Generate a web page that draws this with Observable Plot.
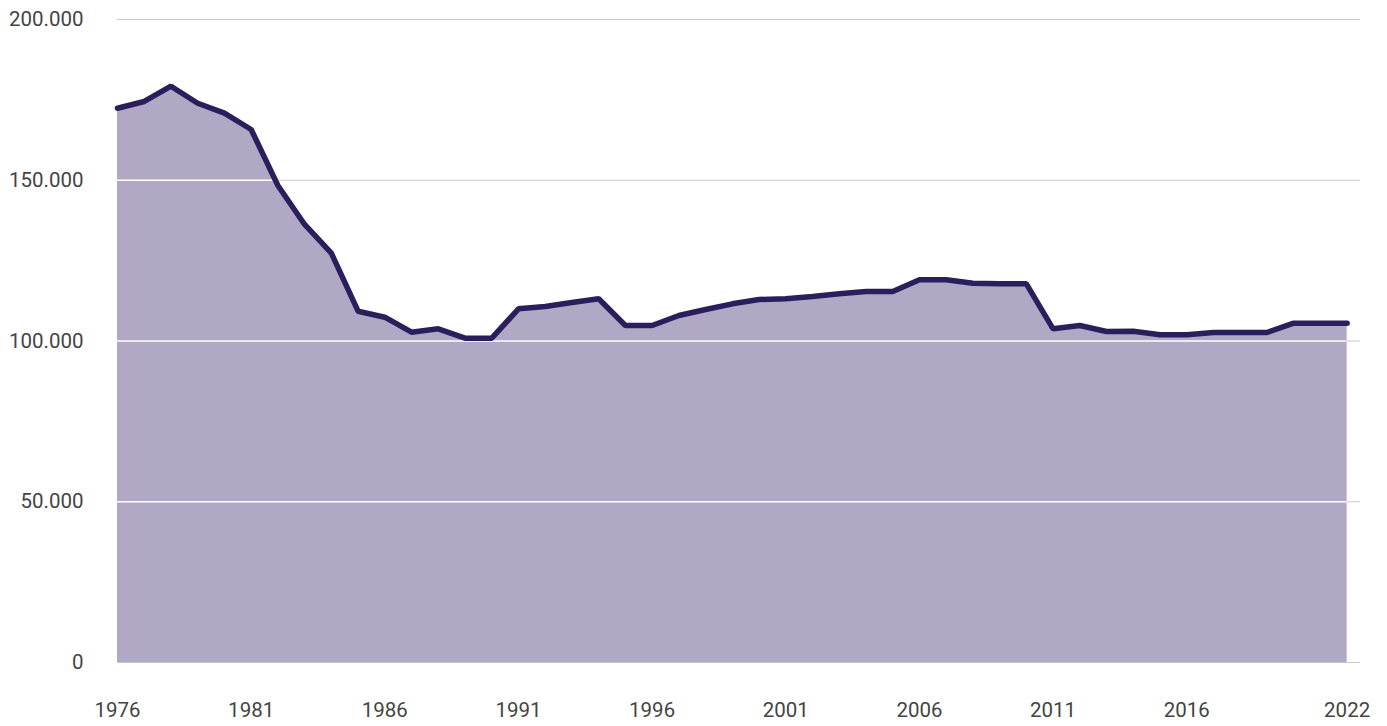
<!DOCTYPE html>
<html>
<head>
<meta charset="utf-8">
<script src="https://cdn.jsdelivr.net/npm/d3@7"></script>
<script src="https://cdn.jsdelivr.net/npm/@observablehq/plot@0.6"></script>
<style>
  html, body { margin: 0; padding: 0; background: #fff; }
  #chart svg { display: block; }
</style>
</head>
<body>
<div id="chart"></div>
<script>
const years = d3.range(1976, 2023);
const values = [
  172400, 174500, 179250, 173950, 170860, 165790, 148370, 136240, 127310, 109270,
  107400, 102740, 103790, 100870, 100870, 110000, 110730, 111980, 113120, 104820,
  104820, 107930, 109800, 111560, 112910, 113120, 113840, 114670, 115400, 115400,
  119030, 119030, 117980, 117780, 117780, 103790, 104820, 102950, 103050, 101920,
  101920, 102640, 102640, 102640, 105540, 105540, 105540
];
const xTicks = [1976, 1981, 1986, 1991, 1996, 2001, 2006, 2011, 2016, 2022];
const yTicks = [0, 50000, 100000, 150000, 200000];

const data = years.map((y, i) => ({year: y, value: values[i]}));
const fmt = d => d3.format(",")(d).replace(/,/g, ".");

const chart = Plot.plot({
  width: 1387,
  height: 726,
  marginLeft: 117,
  marginRight: 27,
  marginTop: 19,
  marginBottom: 64,
  style: {fontFamily: "Roboto, sans-serif", fontSize: "20.5px", color: "#444444", background: "#fff"},
  x: {domain: [1976, 2022.5], ticks: xTicks, tickFormat: d => String(d), tickSize: 0, tickPadding: 40, label: null},
  y: {domain: [0, 200000], ticks: yTicks, tickFormat: fmt, tickSize: 0, tickPadding: 34, label: null},
  marks: [
    Plot.ruleY(yTicks, {stroke: "#c8c8c8", strokeWidth: 1}),
    Plot.areaY(data, {x: "year", y: "value", fill: "#b0a8c4", className: "area-fill"}),
    Plot.ruleY(yTicks.filter(d => d > 0), {stroke: "#ffffff", strokeWidth: 1.5, className: "grid-white"}),
    Plot.lineY(data, {x: "year", y: "value", stroke: "#2a1f5c", strokeWidth: 5.5, strokeLinejoin: "miter"})
  ]
});

// clip the white grid lines to the filled area
const svg = d3.select(chart);
const areaPath = svg.select("g.area-fill path");
if (!areaPath.empty()) {
  const defs = svg.insert("defs", ":first-child");
  defs.append("clipPath").attr("id", "areaClip")
    .append("path").attr("d", areaPath.attr("d"));
  svg.select("g.grid-white").attr("clip-path", "url(#areaClip)");
}

document.getElementById("chart").appendChild(chart);
</script>
</body>
</html>
